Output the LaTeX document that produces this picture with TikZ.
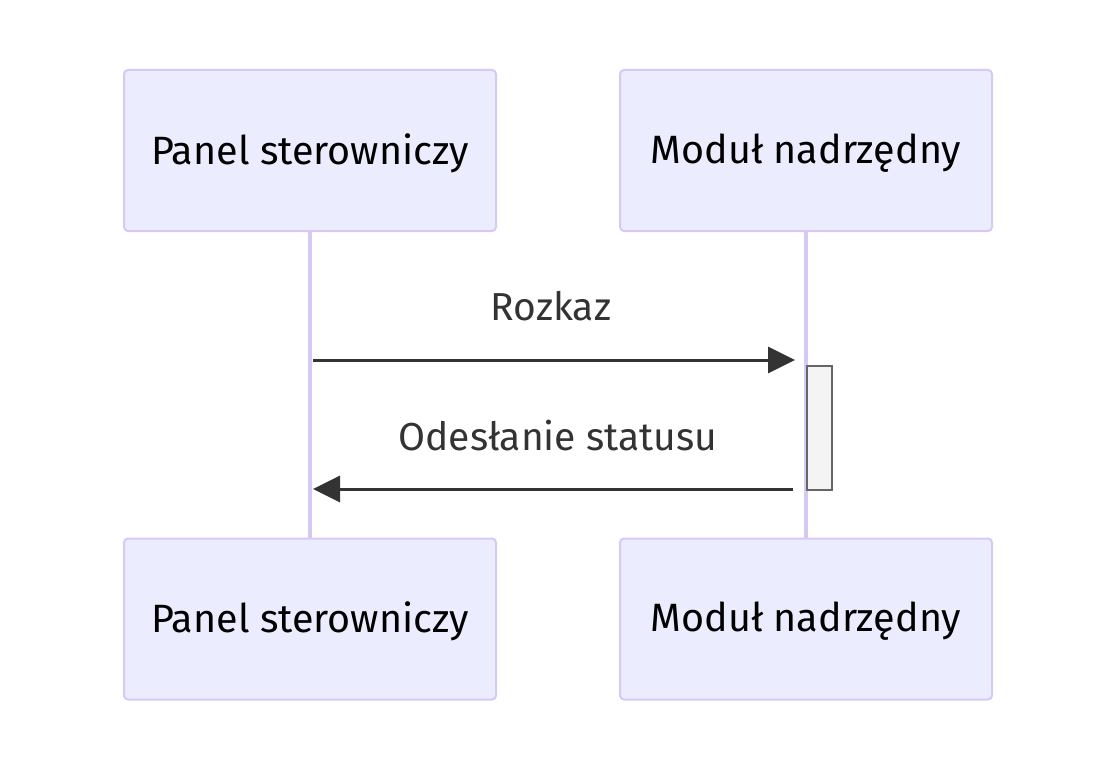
\documentclass[tikz,border=0pt]{standalone}
\usepackage{fontspec}
\setmainfont{Fira Sans}
\usetikzlibrary{arrows.meta}
\definecolor{actfill}{HTML}{ECECFF}
\definecolor{actline}{HTML}{D7C9F5}
\definecolor{msg}{HTML}{333333}
\definecolor{actvfill}{HTML}{F4F4F4}
\definecolor{actvline}{HTML}{666666}
\tikzset{
  actor/.style={draw=actline, fill=actfill, line width=2pt, rounded corners=4pt, minimum width=372pt, minimum height=161pt, inner sep=0pt, text=black},
  actortext/.style={font=\fontsize{39.5}{46}\selectfont, text=black, inner sep=0pt},
  lifeline/.style={draw=actline, line width=3.5pt},
  msgline/.style={draw=msg, line width=3pt, -{Triangle[length=27pt,width=26pt]}},
  msglabel/.style={font=\fontsize{39}{46}\selectfont, text=msg},
}
\begin{document}
\begin{tikzpicture}[x=1pt,y=-1pt]
\useasboundingbox (0,0) rectangle (1116,773);
\node[actor] (a1) at (310,150.5) {};
\node[actor] (b1) at (806,150.5) {};
\node[actor] (a2) at (310,619) {};
\node[actor] (b2) at (806,619) {};
\node[actortext] (ta1) at (310,153) {Panel sterowniczy};
\node[actortext] (tb1) at (806,153) {Moduł nadrzędny};
\node[actortext] (ta2) at (310,621.5) {Panel sterowniczy};
\node[actortext] (tb2) at (806,621.5) {Moduł nadrzędny};
\draw[lifeline] (a1.south) -- (a2.north);
\draw[lifeline] (b1.south) -- (b2.north);
\node[draw=actvline, fill=actvfill, line width=2pt, minimum width=25pt, minimum height=124pt, inner sep=0pt, anchor=north west] (act) at (806,365) {};
\coordinate (m1s) at (313,360);
\coordinate (m1e) at (795,360);
\coordinate (m2s) at (793,489);
\coordinate (m2e) at (313,489);
\draw[msgline] (m1s) -- (m1e);
\draw[msgline] (m2s) -- (m2e);
\node[msglabel] (l1) at (551,306) {Rozkaz};
\node[msglabel] (l2) at (558,436) {Odesłanie statusu};
\end{tikzpicture}
\end{document}
